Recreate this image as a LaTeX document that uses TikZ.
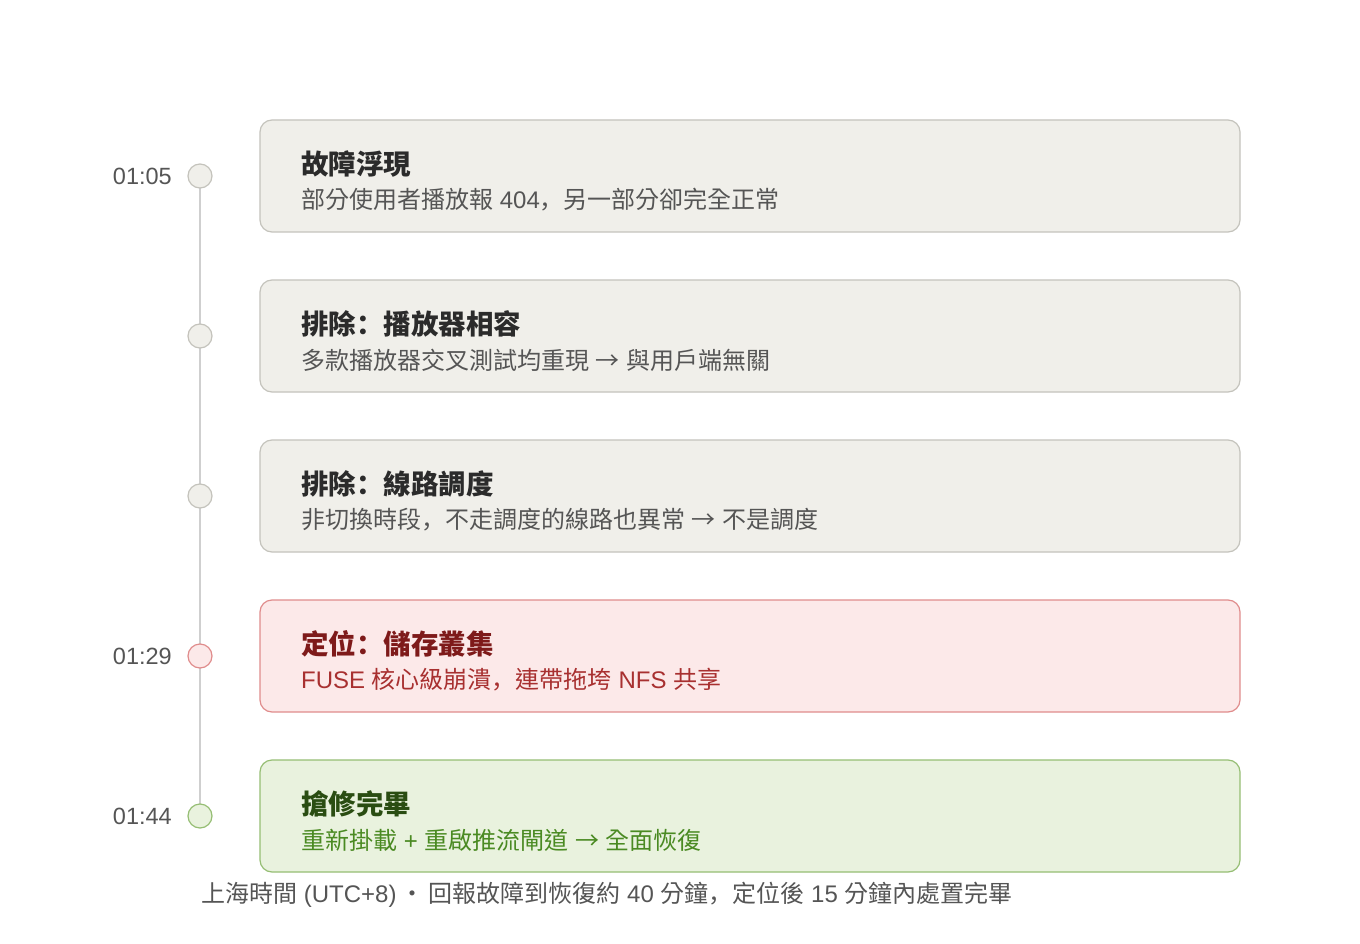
\documentclass[tikz,border=0pt]{standalone}
\usepackage{fontspec}
\setmainfont{Noto Sans CJK TC}
\newfontfamily\latf{Liberation Sans}
\newfontfamily\scpf{Noto Sans CJK SC}
\newcommand\lt[1]{{\latf #1}}
\newcommand\pc[1]{{\scpf #1}}
\newcommand\arr{\lt{ }→\lt{ }}
\definecolor{graybg}{HTML}{F0EFEA}
\definecolor{grayln}{HTML}{C4C3BC}
\definecolor{redbg}{HTML}{FCE9E9}
\definecolor{redln}{HTML}{E08C8C}
\definecolor{redtt}{HTML}{7E1A1A}
\definecolor{redsb}{HTML}{A83030}
\definecolor{grnbg}{HTML}{E9F2DE}
\definecolor{grnln}{HTML}{96BE74}
\definecolor{grntt}{HTML}{2A4D12}
\definecolor{grnsb}{HTML}{4A8A22}
\definecolor{txtdark}{HTML}{2B2B2B}
\definecolor{txtmid}{HTML}{555555}
\definecolor{axis}{HTML}{CFCFCF}
\tikzset{
  card/.style={draw=grayln, fill=graybg, rounded corners=12pt, line width=1.2pt},
  dot/.style={circle, draw=grayln, fill=graybg, minimum size=24pt, inner sep=0pt, line width=1.2pt},
  ttl/.style={anchor=west, inner sep=0pt, font=\fontsize{27.5}{30}\selectfont\bfseries, text=txtdark},
  sub/.style={anchor=west, inner sep=0pt, font=\fontsize{24}{27}\selectfont, text=txtmid},
  tm/.style={anchor=east, inner sep=0pt, font=\fontsize{23.5}{27}\selectfont\latf, text=txtmid},
}
\begin{document}
\begin{tikzpicture}[x=1pt,y=-1pt]
\useasboundingbox (0,0) rectangle (1360,944);
\fill[white] (0,0) rectangle (1360,944);
% axis
\coordinate (top) at (200,176);
\coordinate (bot) at (200,816);
\draw[axis, line width=1.2pt] (top) -- (bot);
% cards
\draw[card] (260,120) rectangle (1240,232);
\draw[card] (260,280) rectangle (1240,392);
\draw[card] (260,440) rectangle (1240,552);
\draw[card, draw=redln, fill=redbg] (260,600) rectangle (1240,712);
\draw[card, draw=grnln, fill=grnbg] (260,760) rectangle (1240,872);
% dots
\node[dot] (d1) at (200,176) {};
\node[dot] (d2) at (200,336) {};
\node[dot] (d3) at (200,496) {};
\node[dot, draw=redln, fill=redbg] (d4) at (200,656) {};
\node[dot, draw=grnln, fill=grnbg] (d5) at (200,816) {};
% times
\node[tm] (t1) at (172,176) {01:05};
\node[tm] (t4) at (172,656) {01:29};
\node[tm] (t5) at (172,816) {01:44};
% texts
\node[ttl] (a1) at (301,164) {故障浮現};
\node[sub] (b1) at (301,200) {部分使用者播放報\lt{ 404}\pc{，}另一部分卻完全正常};
\node[ttl] (a2) at (301,324) {排除\pc{：}播放器相容};
\node[sub] (b2) at (301,360) {多款播放器交叉測試均重現\arr 與用戶端無關};
\node[ttl] (a3) at (301,484) {排除\pc{：}線路調度};
\node[sub] (b3) at (301,520) {非切換時段\pc{，}不走調度的線路也異常\arr 不是調度};
\node[ttl, text=redtt] (a4) at (301,644) {定位\pc{：}儲存叢集};
\node[sub, text=redsb] (b4) at (301,680) {\lt{FUSE }核心級崩潰\pc{，}連帶拖垮\lt{ NFS }共享};
\node[ttl, text=grntt] (a5) at (301,804) {搶修完畢};
\node[sub, text=grnsb] (b5) at (301,840) {重新掛載\lt{ + }重啟推流閘道\arr 全面恢復};
% footer
\node[sub] (ft) at (201,895) {上海時間\lt{ (UTC+8)\,}·\lt{\,}回報故障到恢復約\lt{ 40 }分鐘\pc{，}定位後\lt{ 15 }分鐘內處置完畢};
\end{tikzpicture}
\end{document}
